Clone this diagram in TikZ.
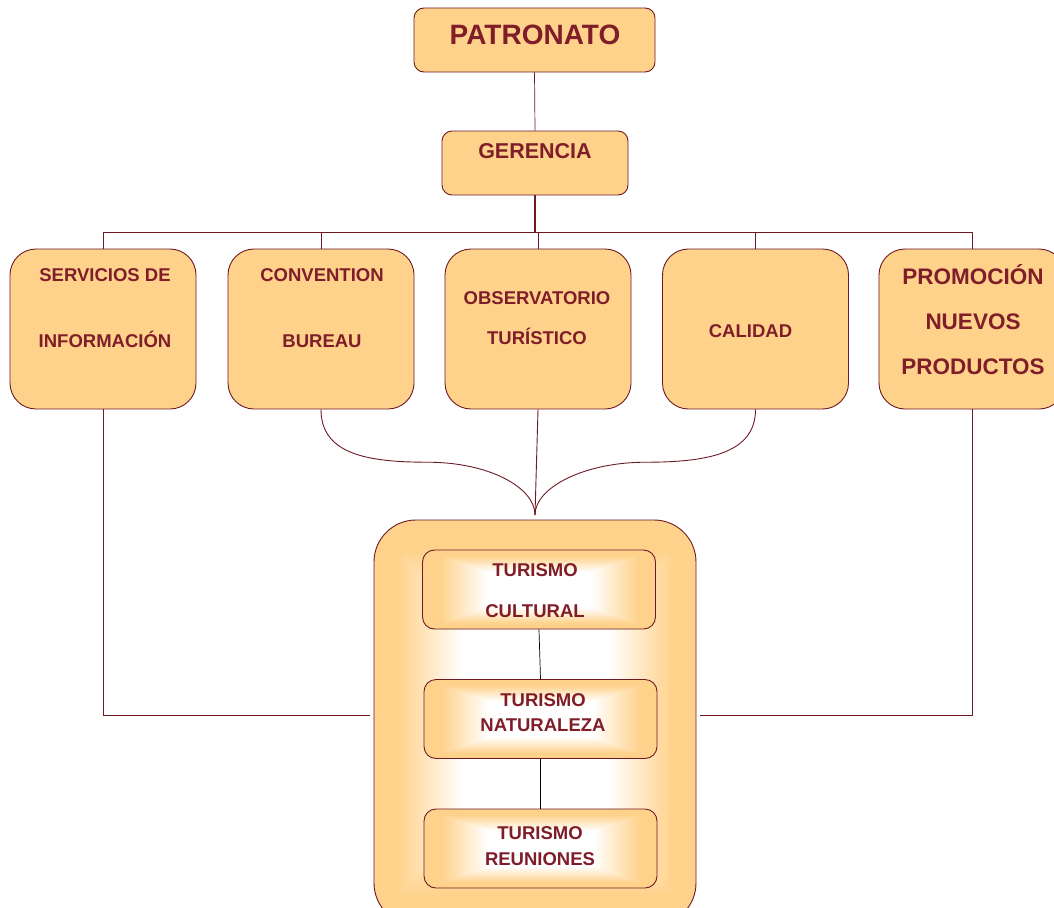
\documentclass[tikz,border=0pt]{standalone}
\usepackage{fontspec}
\setmainfont{Liberation Sans}
\usepackage{tikz}
\usetikzlibrary{calc}
\definecolor{boxFill}{HTML}{FFD28C}
\definecolor{boxText}{HTML}{7F1D29}
\definecolor{boxEdge}{HTML}{6E1A22}
\colorlet{linkLine}{boxEdge}
% white centre fading to boxFill towards the edges of the box
\pgfdeclarefunctionalshading{areaGlow}{\pgfpointorigin}{\pgfpoint{100bp}{100bp}}{}{
  50 sub exch 50 sub
  abs exch abs 2 copy sub abs add add 2 div
  25 div 0.45 sub 0.4 div
  dup abs exch 1 sub abs sub 1 add 2 div
  1 exch dup 0.176 mul 1 exch sub exch 0.451 mul 1 exch sub
}

\begin{document}
\begin{tikzpicture}[
  x=1pt, y=-1pt,
  plain box/.style={
    draw=boxEdge,
    line width=0.9pt,
    fill=boxFill,
    inner sep=0pt,
  },
  head box/.style={
    plain box,
    rounded corners=10pt,
  },
  unit box/.style={
    plain box,
    rounded corners=26pt,
    minimum width=186pt,
    minimum height=160pt,
  },
  area box/.style={
    draw=boxEdge,
    line width=0.9pt,
    shading=areaGlow,
    rounded corners=42pt,
  },
  theme box/.style={
    draw=boxEdge,
    line width=0.9pt,
    shading=areaGlow,
    rounded corners=12pt,
    minimum width=233pt,
    minimum height=79pt,
  },
  box text/.style={
    text=boxText,
    font=\bfseries\fontsize{18.5}{22}\selectfont,
    align=center,
    inner sep=0pt,
  },
  link/.style={
    draw=linkLine,
    line width=0.9pt,
  },
]
\useasboundingbox (0,0) rectangle (1054,907);
% top
\node[head box, minimum width=241pt, minimum height=64pt] (patronato) at (534.5,40) {};
\node[box text, font=\bfseries\fontsize{28}{32}\selectfont] (patronatoText) at (535,35) {PATRONATO};
\node[head box, minimum width=186pt, minimum height=64pt] (gerencia) at (535,163) {};
\node[box text, font=\bfseries\fontsize{21.5}{26}\selectfont] (gerenciaText) at (535,151.5) {GERENCIA};
% units
\node[unit box] (servicios) at (103,329) {};
\node[unit box] (convention) at (321,329) {};
\node[unit box] (observatorio) at (538,329) {};
\node[unit box] (calidad) at (755.5,329) {};
\node[unit box] (promocion) at (972,329) {};
\node[box text] (serviciosText) at (105,308) {SERVICIOS DE\\[44pt]INFORMACIÓN};
\node[box text] (conventionText) at (322,308) {CONVENTION\\[44pt]BUREAU};
\node[box text] (observatorioText) at (537,318) {OBSERVATORIO\\[18pt]TURÍSTICO};
\node[box text] (calidadText) at (750.5,331) {CALIDAD};
\node[box text, font=\bfseries\fontsize{22.5}{26}\selectfont] (promocionText) at (973,319.5) {PROMOCIÓN\\[19pt]NUEVOS\\[19pt]PRODUCTOS};
% areas
\node[area box, minimum width=322pt, minimum height=405pt] (area) at (535,722.5) {};
\node[theme box] (cultural) at (539,589.5) {};
\node[theme box] (naturaleza) at (540.5,719) {};
\node[theme box] (reuniones) at (540.5,848.5) {};
\node[box text] (culturalText) at (535,590.5) {TURISMO\\[19pt]CULTURAL};
\node[box text] (naturalezaText) at (543,712.5) {TURISMO\\[3pt]NATURALEZA};
\node[box text] (reunionesText) at (540,846) {TURISMO\\[4pt]REUNIONES};
% links
\coordinate (meet) at (535,515);
\coordinate (sideL) at (370,715);
\coordinate (sideR) at (700,715);
\draw[link, line width=0.7pt] (patronato.south) -- (gerencia.north);
\draw[link, line width=1.8pt] (gerencia.south) -- ++(0,38);
\draw[link] (servicios.north) -- ++(0,-16) -| (promocion.north);
\foreach \n in {convention, observatorio, calidad}
  \draw[link] (\n.north) -- ++(0,-16);
\draw[link] (convention.south) .. controls +(0,45) and +(-60,0) .. ($(convention.south)!0.5!(meet)$)
  .. controls +(60,0) and +(0,-28) .. (meet);
\draw[link] (calidad.south) .. controls +(0,45) and +(60,0) .. ($(calidad.south)!0.5!(meet)$)
  .. controls +(-60,0) and +(0,-28) .. (meet);
\draw[link] (observatorio.south) -- (meet);
\draw[link] (servicios.south) |- (sideL);
\draw[link] (promocion.south) |- (sideR);
\draw[black, line width=0.7pt] (cultural.south) -- (naturaleza.north);
\draw[black, line width=0.7pt] (naturaleza.south) -- (reuniones.north);
\end{tikzpicture}
\end{document}
